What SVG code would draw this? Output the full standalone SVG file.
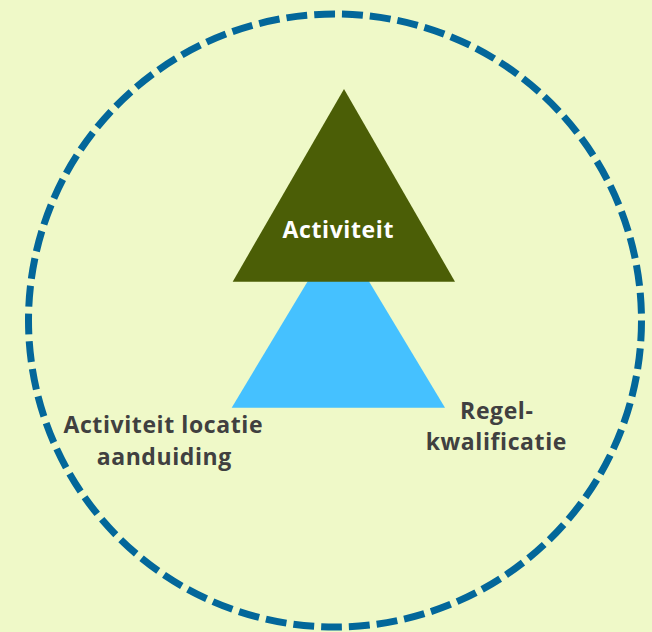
<svg xmlns="http://www.w3.org/2000/svg" width="652" height="632" viewBox="0 0 652 632">
  <style>
    .lbl { font-family: "Open Sans", "Liberation Sans", sans-serif; font-weight: 700; font-size: 23px; letter-spacing: 0.6px; fill: #404040; text-anchor: middle; }
    .in { fill: #ffffff; }
  </style>
  <rect x="0" y="0" width="652" height="632" fill="#EFF9C8"/>
  <g id="boundary">
    <circle cx="335" cy="320.5" r="306.5" fill="none" stroke="#03679A" stroke-width="7" stroke-dasharray="20.9 7"/>
  </g>
  <g id="connectors"></g>
  <g id="regelkwalificatie-base">
    <polygon points="338.3,230.4 231.7,407.7 445,407.7" fill="#45C1FF"/>
  </g>
  <g id="activiteit">
    <polygon points="344,89 232.7,281.7 455,281.7" fill="#4B5E06"/>
    <text class="lbl in" x="338.3" y="237.5">Activiteit</text>
  </g>
  <g id="activiteit-locatie-aanduiding">
    <text class="lbl" x="163.3" y="432.5">Activiteit locatie</text>
    <text class="lbl" x="164.3" y="464.5">aanduiding</text>
  </g>
  <g id="regel-kwalificatie">
    <text class="lbl" x="496.8" y="418.5">Regel-</text>
    <text class="lbl" x="496.3" y="450">kwalificatie</text>
  </g>
</svg>
